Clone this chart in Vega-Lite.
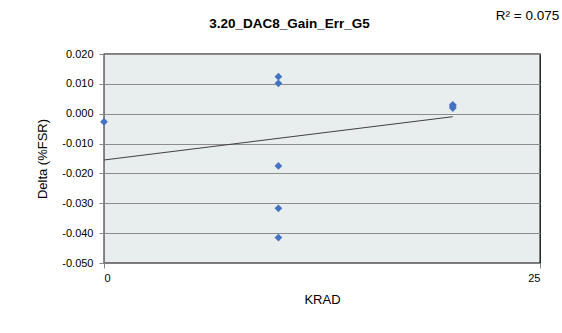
{
  "$schema": "https://vega.github.io/schema/vega-lite/v6.json",
  "width": 436,
  "height": 209,
  "autosize": {"type": "none"},
  "padding": {"left": 104, "top": 54, "right": 22, "bottom": 70},
  "background": "white",
  "title": {
    "text": "3.20_DAC8_Gain_Err_G5",
    "font": "Liberation Sans",
    "fontSize": 13.5,
    "fontWeight": "bold",
    "color": "#000000",
    "anchor": "middle",
    "frame": "group",
    "baseline": "middle",
    "dx": -32.5,
    "offset": -28
  },
  "datasets": {
    "points": [
      {"KRAD": 0, "Delta": -0.0027},
      {"KRAD": 10, "Delta": 0.0124},
      {"KRAD": 10, "Delta": 0.0102},
      {"KRAD": 10, "Delta": -0.0175},
      {"KRAD": 10, "Delta": -0.0317},
      {"KRAD": 10, "Delta": -0.0415},
      {"KRAD": 20, "Delta": 0.0030},
      {"KRAD": 20, "Delta": 0.0025},
      {"KRAD": 20, "Delta": 0.0019}
    ],
    "trend": [
      {"KRAD": 0, "Delta": -0.0155},
      {"KRAD": 20, "Delta": -0.0010}
    ],
    "r2": [
      {"KRAD": 26.1, "Delta": 0.0327, "label": "R² = 0.075"}
    ]
  },
  "encoding": {
    "x": {
      "field": "KRAD",
      "type": "quantitative",
      "scale": {"domain": [0, 25], "nice": false, "zero": false},
      "axis": {
        "values": [0, 25],
        "grid": false,
        "title": "KRAD",
        "tickSize": 5,
        "tickColor": "#888888",
        "domainColor": "#7f7f7f",
        "labelFont": "Liberation Sans",
        "labelFontSize": 11,
        "labelColor": "#000000",
        "labelPadding": 4,
        "titleFont": "Liberation Sans",
        "titleFontSize": 13,
        "titleFontWeight": "normal",
        "titleColor": "#000000",
        "titlePadding": 10
      }
    },
    "y": {
      "field": "Delta",
      "type": "quantitative",
      "scale": {"domain": [-0.05, 0.02], "nice": false, "zero": false},
      "axis": {
        "values": [-0.05, -0.04, -0.03, -0.02, -0.01, 0, 0.01, 0.02],
        "labelExpr": "replace(format(datum.value, '.3f'), '\u2212', '-')",
        "grid": true,
        "gridColor": "#8c8c8c",
        "gridWidth": 1,
        "title": "Delta (%FSR)",
        "tickSize": 5,
        "tickColor": "#888888",
        "domainColor": "#7f7f7f",
        "labelFont": "Liberation Sans",
        "labelFontSize": 11,
        "labelColor": "#000000",
        "labelPadding": 6,
        "titleFont": "Liberation Sans",
        "titleFontSize": 13,
        "titleFontWeight": "normal",
        "titleColor": "#000000",
        "titlePadding": 12
      }
    }
  },
  "layer": [
    {
      "data": {"name": "trend"},
      "mark": {"type": "line", "color": "#404040", "strokeWidth": 1}
    },
    {
      "data": {"name": "points"},
      "mark": {"type": "point", "shape": "diamond", "filled": true, "color": "#4472C4", "size": 60, "opacity": 1}
    },
    {
      "data": {"name": "r2"},
      "mark": {"type": "text", "align": "right", "baseline": "middle", "clip": false, "font": "Liberation Sans", "fontSize": 13.5, "color": "#000000"},
      "encoding": {"text": {"field": "label"}}
    }
  ],
  "config": {
    "view": {"stroke": "#000000", "strokeWidth": 1.3, "fill": "#E8EDED"}
  }
}
